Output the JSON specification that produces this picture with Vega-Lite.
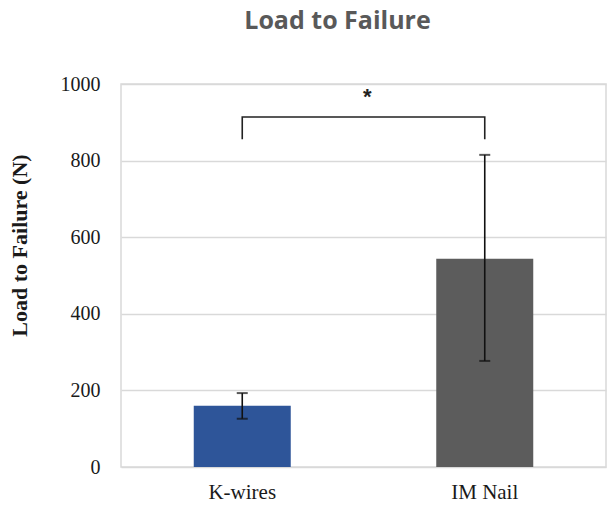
{
  "$schema": "https://vega.github.io/schema/vega-lite/v6.json",
  "autosize": "none",
  "width": 485,
  "height": 383,
  "padding": {"left": 121, "top": 84, "right": 8, "bottom": 46},
  "background": "white",
  "title": {
    "text": "Load to Failure",
    "font": "Open Sans",
    "fontSize": 25,
    "fontWeight": "bold",
    "color": "#595959",
    "anchor": "middle",
    "frame": "group",
    "dx": -26,
    "offset": 40
  },
  "config": {
    "view": {"stroke": "#d9d9d9", "strokeWidth": 1.5},
    "axis": {"labelFont": "Liberation Serif", "titleFont": "Liberation Serif"}
  },
  "datasets": {
    "bars": [
      {"group": "K-wires", "mean": 160, "lo": 126, "hi": 193},
      {"group": "IM Nail", "mean": 544, "lo": 277, "hi": 815}
    ],
    "bracket": [
      {"group": "K-wires", "value": 856, "order": 1},
      {"group": "K-wires", "value": 914, "order": 2},
      {"group": "IM Nail", "value": 914, "order": 3},
      {"group": "IM Nail", "value": 856, "order": 4}
    ],
    "star": [
      {"group": "K-wires", "value": 966, "label": "*"}
    ]
  },
  "encoding": {
    "x": {
      "field": "group",
      "type": "nominal",
      "sort": ["K-wires", "IM Nail"],
      "scale": {"paddingInner": 0.6, "paddingOuter": 0.3},
      "axis": {
        "title": null,
        "labelAngle": 0,
        "labelFontSize": 21,
        "labelColor": "#1a1a1a",
        "labelPadding": 14,
        "ticks": false,
        "domain": false
      }
    }
  },
  "layer": [
    {
      "data": {"name": "bars"},
      "mark": {"type": "bar"},
      "encoding": {
        "y": {
          "field": "mean",
          "type": "quantitative",
          "scale": {"domain": [0, 1000]},
          "axis": {
            "title": "Load to Failure (N)",
            "titleFontSize": 22,
            "titleFontWeight": "bold",
            "titleColor": "#1a1a1a",
            "titlePadding": 29,
            "titleY": 161,
            "titleAlign": "center",
            "values": [0, 200, 400, 600, 800, 1000],
            "format": "d",
            "labelFontSize": 20,
            "labelColor": "#1a1a1a",
            "labelPadding": 21,
            "ticks": false,
            "domain": false,
            "gridColor": "#d9d9d9",
            "gridWidth": 1.5
          }
        },
        "color": {
          "field": "group",
          "type": "nominal",
          "scale": {"domain": ["K-wires", "IM Nail"], "range": ["#2E5599", "#5C5C5C"]},
          "legend": null
        }
      }
    },
    {
      "data": {"name": "bars"},
      "mark": {"type": "rule", "color": "#111111", "strokeWidth": 1.6},
      "encoding": {
        "y": {"field": "lo", "type": "quantitative"},
        "y2": {"field": "hi"}
      }
    },
    {
      "data": {"name": "bars"},
      "mark": {"type": "tick", "color": "#111111", "thickness": 2, "size": 11, "orient": "horizontal"},
      "encoding": {"y": {"field": "lo", "type": "quantitative"}}
    },
    {
      "data": {"name": "bars"},
      "mark": {"type": "tick", "color": "#111111", "thickness": 2, "size": 11, "orient": "horizontal"},
      "encoding": {"y": {"field": "hi", "type": "quantitative"}}
    },
    {
      "data": {"name": "bracket"},
      "mark": {"type": "line", "color": "#222222", "strokeWidth": 1.6},
      "encoding": {
        "y": {"field": "value", "type": "quantitative"},
        "order": {"field": "order", "type": "quantitative"}
      }
    },
    {
      "data": {"name": "star"},
      "mark": {"type": "text", "font": "Liberation Sans", "fontSize": 22, "fontWeight": "bold", "color": "#222222", "dx": 125, "baseline": "middle"},
      "encoding": {
        "y": {"field": "value", "type": "quantitative"},
        "text": {"field": "label"}
      }
    }
  ]
}
